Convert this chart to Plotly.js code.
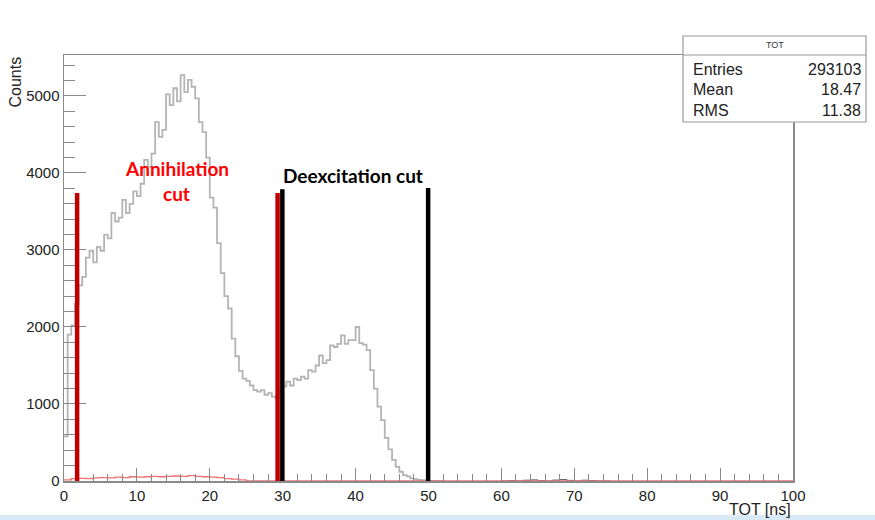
<!DOCTYPE html>
<html>
<head>
<meta charset="utf-8">
<script src="https://cdn.plot.ly/plotly-3.0.1.min.js"></script>
<style>
  html, body { margin: 0; padding: 0; background: #ffffff; }
  #chart { width: 875px; height: 520px; }
</style>
</head>
<body>
<div id="chart"></div>
<script>
// ---------------- DATA ----------------
// TOT histogram (gray), 0.5 ns bins starting at 0 ns
const grayBinWidth = 0.5;
const grayCounts = [
  580, 1900, 2020, 2300, 2540, 2650, 2900, 2990, 2840, 3040,
  2990, 3200, 3150, 3480, 3370, 3420, 3650, 3480, 3600, 3760,
  3700, 3860, 4170, 4080, 4250, 4660, 4470, 4560, 5020, 4880,
  5100, 4930, 5270, 5050, 5210, 5120, 4970, 4660, 4530, 4200,
  3680, 3550, 3090, 2700, 2400, 2240, 1850, 1620, 1430, 1330,
  1300, 1240, 1180, 1160, 1180, 1120, 1140, 1095, 1075, 1200,
  1230, 1290, 1240, 1330, 1310, 1355, 1330, 1440, 1420, 1500,
  1630, 1530, 1570, 1760, 1740, 1780, 1890, 1780, 1830, 1830,
  2000, 1790, 1770, 1700, 1440, 1200, 965, 790, 560, 410,
  275, 185, 120, 75, 60, 35, 25, 13, 10, 5,
  0, 0, 0, 0
];

// second histogram (red), 1 ns bins starting at 0 ns
const redBinWidth = 1;
const redCounts = [
  15, 30, 35, 30, 40, 45, 40, 50, 45, 55,
  50, 55, 60, 55, 60, 65, 60, 70, 60, 55,
  50, 45, 30, 25, 15, 0, 0, 0, 0, 0,
  0, 0, 0, 0, 0, 0, 0, 0, 0, 0,
  0, 0, 0, 0, 0, 0, 0, 0, 0, 0,
  0, 0, 0, 0, 0, 0, 0, 0, 0, 0,
  0, 0, 0, 0, 0, 0, 0, 0, 0, 0,
  0, 0, 0, 0, 0, 0, 0, 0, 0, 0,
  0, 0, 0, 0, 0, 0, 0, 0, 0, 0,
  0, 0, 0, 0, 0, 0, 0, 0, 0, 0
];

// small dark entries, 1 ns bins starting at 60 ns
const darkStart = 60;
const darkCounts = [0, 6, 0, 10, 14, 5, 0, 12, 18, 8, 0, 10, 5, 0, 0];

// cut markers
const annihilationCut = [1.8, 29.3];
const annihilationTop = [3740, 3740];
const deexcitationCut = [29.95, 49.95];
const deexcitationTop = [3790, 3805];

// stats box
const statsTitle = "TOT";
const statsLabels = ["Entries", "Mean", "RMS"];
const statsValues = ["293103", "18.47", "11.38"];

// axis ticks
const xTickVals = [0, 10, 20, 30, 40, 50, 60, 70, 80, 90, 100];
const yTickVals = [0, 1000, 2000, 3000, 4000, 5000];

// ---------------- HELPERS ----------------
function histEdges(counts, start, width) {
  const xs = [], ys = [];
  for (let i = 0; i < counts.length; i++) {
    xs.push(start + i * width);
    ys.push(counts[i]);
  }
  xs.push(start + counts.length * width);
  ys.push(counts[counts.length - 1]);
  return {x: xs, y: ys};
}

// plot area in pixels
const L = 64, R = 793, T = 55, B = 481;
const px = v => (v - L) / (R - L);
const py = v => (B - v) / (B - T);

const gray = histEdges(grayCounts, 0, grayBinWidth);
const red = histEdges(redCounts, 0, redBinWidth);
const dark = histEdges(darkCounts, darkStart, 1);

const traces = [
  {x: gray.x, y: gray.y, type: 'scatter', mode: 'lines',
   line: {shape: 'hv', color: '#b4b4b4', width: 1.8}, hoverinfo: 'skip'},
  {x: dark.x, y: dark.y, type: 'scatter', mode: 'lines',
   line: {shape: 'hv', color: '#555555', width: 1}, hoverinfo: 'skip'},
  {x: red.x, y: red.y, type: 'scatter', mode: 'lines',
   line: {shape: 'hv', color: '#ee7070', width: 1.3}, hoverinfo: 'skip'}
];

const shapes = [];
annihilationCut.forEach((c, i) => shapes.push({
  type: 'line', xref: 'x', yref: 'y', x0: c, x1: c, y0: 0, y1: annihilationTop[i],
  line: {color: '#c00000', width: 4.5}
}));
deexcitationCut.forEach((c, i) => shapes.push({
  type: 'line', xref: 'x', yref: 'y', x0: c, x1: c, y0: 0, y1: deexcitationTop[i],
  line: {color: '#000000', width: 4.5}
}));
// stats box
shapes.push({type: 'rect', xref: 'paper', yref: 'paper',
  x0: px(683), x1: px(866), y0: py(122), y1: py(36),
  fillcolor: '#ffffff', line: {color: '#999999', width: 1.2}});
shapes.push({type: 'line', xref: 'paper', yref: 'paper',
  x0: px(683), x1: px(866), y0: py(55), y1: py(55),
  line: {color: '#999999', width: 1.2}});
// light blue band at bottom of picture
shapes.push({type: 'rect', xref: 'paper', yref: 'paper',
  x0: px(0), x1: px(875), y0: py(520), y1: py(515),
  fillcolor: '#d8e9f7', line: {width: 0}});

const baseFont = 'Liberation Sans, Arial, sans-serif';
const annotations = [
  {text: 'Annihilation', xref: 'paper', yref: 'paper', x: px(177), y: py(168),
   xanchor: 'center', yanchor: 'middle', showarrow: false,
   font: {family: 'Lato, sans-serif', size: 19, color: '#ff0000', weight: 'bold'}},
  {text: 'cut', xref: 'paper', yref: 'paper', x: px(176), y: py(193),
   xanchor: 'center', yanchor: 'middle', showarrow: false,
   font: {family: 'Lato, sans-serif', size: 19, color: '#ff0000', weight: 'bold'}},
  {text: 'Deexcitation cut', xref: 'paper', yref: 'paper', x: px(353), y: py(175),
   xanchor: 'center', yanchor: 'middle', showarrow: false,
   font: {family: 'Lato, sans-serif', size: 19, color: '#000000', weight: 'bold'}},
  {text: 'TOT [ns]', xref: 'paper', yref: 'paper', x: 1, y: py(509),
   xanchor: 'right', yanchor: 'middle', showarrow: false,
   font: {family: baseFont, size: 16, color: '#222222'}},
  {text: 'Counts', xref: 'paper', yref: 'paper', x: px(15), y: 1,
   xanchor: 'center', yanchor: 'top', textangle: -90, showarrow: false,
   font: {family: baseFont, size: 16, color: '#222222'}},
  {text: statsTitle, xref: 'paper', yref: 'paper', x: px(775), y: py(45),
   xanchor: 'center', yanchor: 'middle', showarrow: false,
   font: {family: baseFont, size: 9, color: '#333333'}}
];
statsLabels.forEach((lab, i) => {
  annotations.push({text: lab, xref: 'paper', yref: 'paper', x: px(691), y: py(70 + 20 * i),
    xanchor: 'left', yanchor: 'middle', showarrow: false,
    font: {family: baseFont, size: 16, color: '#222222'}});
  annotations.push({text: statsValues[i], xref: 'paper', yref: 'paper', x: px(863), y: py(70 + 20 * i),
    xanchor: 'right', yanchor: 'middle', showarrow: false,
    font: {family: baseFont, size: 16, color: '#222222'}});
});

const axisCommon = {
  showgrid: false, zeroline: false, showline: true, mirror: true,
  linecolor: '#8a8a8a', linewidth: 1.5,
  ticks: 'inside', tickcolor: '#8a8a8a', tickwidth: 1,
  tickfont: {family: baseFont, size: 15, color: '#222222'}
};

const layout = {
  width: 875, height: 520,
  margin: {l: L, r: 875 - R, t: T, b: 520 - B, pad: 0},
  paper_bgcolor: '#ffffff', plot_bgcolor: '#ffffff',
  showlegend: false,
  xaxis: Object.assign({}, axisCommon, {
    range: [0, 100], tickvals: xTickVals, ticktext: xTickVals.map(String), ticklen: 13,
    minor: {dtick: 2, ticks: 'inside', ticklen: 7, tickcolor: '#8a8a8a', tickwidth: 1, showgrid: false}
  }),
  yaxis: Object.assign({}, axisCommon, {
    range: [0, 5532], tickvals: yTickVals, ticktext: yTickVals.map(String), ticklen: 22,
    minor: {dtick: 200, ticks: 'inside', ticklen: 11, tickcolor: '#8a8a8a', tickwidth: 1, showgrid: false}
  }),
  shapes: shapes,
  annotations: annotations
};

Plotly.newPlot('chart', traces, layout, {staticPlot: true, displayModeBar: false});
</script>
</body>
</html>
